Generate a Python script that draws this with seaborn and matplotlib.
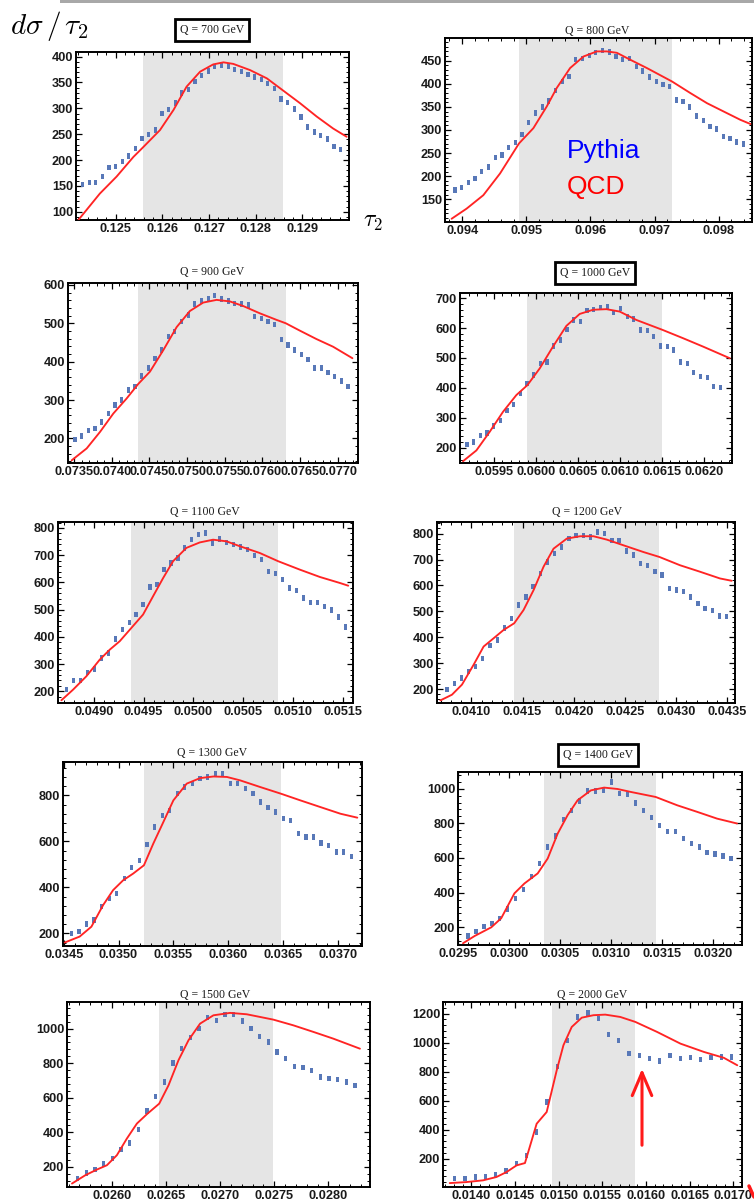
import numpy as np
import pandas as pd
import matplotlib
matplotlib.use("Agg")
import matplotlib.pyplot as plt
from matplotlib.ticker import AutoMinorLocator
from matplotlib.lines import Line2D
from matplotlib.patches import Rectangle, FancyArrowPatch
import seaborn as sns

W, H = 754, 1204

sns.set_theme(style="white")
plt.rcParams["font.family"] = ["Liberation Sans", "DejaVu Sans"]
plt.rcParams["mathtext.fontset"] = "cm"

PYTHIA_COLOR = "#5878b8"
QCD_COLOR = "#ff2424"
WINDOW_COLOR = "#e5e5e5"
TICK_FONT = 9.2

Q_VALUES = [700, 800, 900, 1000, 1100, 1200, 1300, 1400, 1500, 2000]
BOXED_TITLES = [700, 1000, 1400]

# ---------------- Q = 700 GeV ----------------
q700_pythia_tau0, q700_pythia_step = 0.12429, 0.0001418
q700_pythia = [153, 156, 157, 168, 186, 187, 197, 208, 222, 242, 250, 258, 290, 298,
               310, 330, 337, 352, 363, 372, 381, 384, 382, 375, 371, 366, 361, 356,
               348, 338, 318, 311, 299, 283, 264, 254, 247, 241, 226, 220]
q700_qcd_tau = [0.12420, 0.12466, 0.12502, 0.12538, 0.12558, 0.12595, 0.12624, 0.12652,
                0.12681, 0.12709, 0.12731, 0.12752, 0.12788, 0.12824, 0.12858, 0.12895,
                0.12931, 0.12966, 0.12995]
q700_qcd = [84, 135, 168, 206, 224, 258, 297, 342, 371, 385, 389, 386, 374, 358, 335,
            310, 284, 261, 245]
q700_window = (0.12558, 0.12858)
q700_xticks = [0.125, 0.126, 0.127, 0.128, 0.129]
q700_yticks = [100, 150, 200, 250, 300, 350, 400]

# ---------------- Q = 800 GeV ----------------
q800_pythia_tau0, q800_pythia_step = 0.093885, 0.0001047
q800_pythia = [170, 175, 186, 195, 210, 220, 240, 246, 262, 273, 290, 316, 337, 350,
               363, 385, 405, 416, 452, 455, 461, 467, 472, 469, 459, 452, 455, 437,
               428, 415, 405, 399, 394, 365, 361, 350, 330, 320, 307, 302, 286, 281,
               274, 270]
q800_qcd_tau = [0.093833, 0.094068, 0.094328, 0.094589, 0.094885, 0.095109, 0.095318,
                0.095474, 0.095682, 0.095891, 0.096099, 0.096255, 0.096411, 0.096620,
                0.096880, 0.097271, 0.097557, 0.097818, 0.098078, 0.098339, 0.098495]
q800_qcd = [108, 130, 159, 206, 271, 304, 351, 391, 434, 459, 470, 470, 467, 452, 434,
            405, 380, 358, 340, 322, 313]
q800_window = (0.094885, 0.097271)
q800_xticks = [0.094, 0.095, 0.096, 0.097, 0.098]
q800_yticks = [150, 200, 250, 300, 350, 400, 450]

# ---------------- Q = 900 GeV ----------------
q900_pythia_tau0, q900_pythia_step = 0.073513, 0.0000884
q900_pythia = [197, 206, 220, 226, 243, 265, 287, 300, 326, 336, 363, 384, 408, 430,
               465, 478, 505, 522, 550, 558, 564, 572, 563, 558, 551, 550, 548, 518,
               513, 504, 497, 458, 443, 430, 418, 406, 384, 384, 372, 362, 350, 336]
q900_qcd_tau = [0.073469, 0.073668, 0.073845, 0.074022, 0.074198, 0.074353, 0.074508,
                0.074685, 0.074862, 0.075038, 0.075215, 0.075392, 0.075569, 0.075746,
                0.075967, 0.076188, 0.076312, 0.076497, 0.076718, 0.076939, 0.077196]
q900_qcd = [143, 174, 217, 265, 304, 342, 374, 430, 490, 532, 554, 561, 557, 545, 526,
            509, 500, 481, 459, 439, 409]
q900_window = (0.074349, 0.076312)
q900_xticks = [0.0735, 0.0740, 0.0745, 0.0750, 0.0755, 0.0760, 0.0765, 0.0770]
q900_yticks = [200, 300, 400, 500, 600]

# ---------------- Q = 1000 GeV ----------------
q1000_pythia_tau0, q1000_pythia_step = 0.059179, 0.0000794
q1000_pythia = [211, 219, 241, 249, 272, 292, 325, 345, 381, 415, 443, 482, 487, 540,
                560, 596, 627, 622, 659, 661, 668, 672, 652, 665, 638, 630, 594, 592,
                571, 540, 538, 527, 487, 482, 451, 439, 435, 404, 402]
q1000_qcd_tau = [0.059131, 0.059290, 0.059448, 0.059607, 0.059766, 0.059897, 0.060044,
                 0.060202, 0.060361, 0.060520, 0.060679, 0.060837, 0.060996, 0.061194,
                 0.061504, 0.061750, 0.061988, 0.062266, 0.062306]
q1000_qcd = [155, 191, 253, 320, 376, 409, 465, 538, 607, 647, 661, 663, 655, 627, 594,
             566, 538, 504, 499]
q1000_window = (0.059897, 0.061504)
q1000_xticks = [0.0595, 0.0600, 0.0605, 0.0610, 0.0615, 0.0620]
q1000_yticks = [200, 300, 400, 500, 600, 700]

# ---------------- Q = 1100 GeV ----------------
q1100_pythia_tau0, q1100_pythia_step = 0.048726, 0.0000699
q1100_pythia = [206, 240, 240, 270, 282, 322, 341, 392, 427, 453, 482, 518, 583, 592,
                647, 671, 690, 727, 757, 776, 782, 745, 760, 747, 739, 730, 720, 698,
                684, 641, 632, 610, 580, 571, 543, 527, 527, 512, 498, 473, 436]
q1100_qcd_tau = [0.048676, 0.048793, 0.048926, 0.049060, 0.049161, 0.049261, 0.049378,
                 0.049495, 0.049595, 0.049696, 0.049796, 0.049930, 0.050064, 0.050197,
                 0.050331, 0.050465, 0.050666, 0.050849, 0.051067, 0.051268, 0.051468,
                 0.051552]
q1100_qcd = [167, 206, 255, 316, 353, 384, 433, 482, 549, 616, 678, 727, 747, 757, 751,
             733, 708, 678, 647, 620, 598, 588]
q1100_window = (0.049378, 0.050850)
q1100_xticks = [0.0490, 0.0495, 0.0500, 0.0505, 0.0510, 0.0515]
q1100_yticks = [200, 300, 400, 500, 600, 700, 800]

# ---------------- Q = 1200 GeV ----------------
q1200_pythia_tau0, q1200_pythia_step = 0.040763, 0.0000700
q1200_pythia = [197, 221, 242, 268, 287, 319, 367, 390, 435, 473, 524, 556, 595, 646,
                691, 723, 749, 781, 794, 794, 787, 806, 800, 774, 774, 733, 717, 685,
                678, 653, 640, 588, 582, 576, 556, 531, 512, 503, 482, 479]
q1200_qcd_tau = [0.040698, 0.040811, 0.040909, 0.041023, 0.041120, 0.041218, 0.041315,
                 0.041419, 0.041510, 0.041608, 0.041705, 0.041803, 0.041933, 0.042063,
                 0.042193, 0.042323, 0.042486, 0.042681, 0.042837, 0.043038, 0.043233,
                 0.043428, 0.043542]
q1200_qcd = [156, 178, 217, 294, 364, 396, 428, 454, 505, 582, 672, 742, 781, 790, 790,
             777, 755, 729, 710, 678, 653, 627, 618]
q1200_window = (0.041419, 0.042837)
q1200_xticks = [0.0410, 0.0415, 0.0420, 0.0425, 0.0430, 0.0435]
q1200_yticks = [200, 300, 400, 500, 600, 700, 800]

# ---------------- Q = 1300 GeV ----------------
q1300_pythia_tau0, q1300_pythia_step = 0.034570, 0.0000690
q1300_pythia = [200, 207, 240, 258, 316, 352, 374, 439, 486, 518, 587, 663, 713, 735,
                807, 836, 851, 872, 880, 894, 894, 851, 851, 829, 807, 771, 747, 728,
                699, 692, 634, 619, 619, 593, 583, 554, 554, 535]
q1300_qcd_tau = [0.034509, 0.034646, 0.034753, 0.034860, 0.034951, 0.035043, 0.035134,
                 0.035232, 0.035317, 0.035409, 0.035500, 0.035622, 0.035744, 0.035866,
                 0.035988, 0.036110, 0.036293, 0.036482, 0.036659, 0.036841, 0.037024,
                 0.037177]
q1300_qcd = [160, 186, 229, 323, 388, 431, 460, 496, 590, 684, 778, 851, 875, 882, 880,
             865, 836, 807, 778, 749, 720, 703]
q1300_window = (0.035232, 0.036482)
q1300_xticks = [0.0345, 0.0350, 0.0355, 0.0360, 0.0365, 0.0370]
q1300_yticks = [200, 400, 600, 800]

# ---------------- Q = 1400 GeV ----------------
q1400_pythia_tau0, q1400_pythia_step = 0.029598, 0.0000781
q1400_pythia = [150, 175, 204, 223, 252, 306, 367, 419, 492, 568, 664, 726, 822, 875,
                929, 987, 987, 990, 1038, 971, 967, 917, 875, 833, 789, 751, 751, 712,
                683, 664, 630, 622, 611, 597]
q1400_qcd_tau = [0.029549, 0.029663, 0.029826, 0.029923, 0.030053, 0.030151, 0.030281,
                 0.030379, 0.030477, 0.030574, 0.030672, 0.030802, 0.030932, 0.031063,
                 0.031193, 0.031437, 0.031648, 0.031844, 0.032039, 0.032234]
q1400_qcd = [108, 150, 200, 252, 396, 453, 511, 597, 741, 847, 933, 990, 1006, 998, 981,
             952, 904, 866, 827, 799]
q1400_window = (0.030340, 0.031437)
q1400_xticks = [0.0295, 0.0300, 0.0305, 0.0310, 0.0315, 0.0320]
q1400_yticks = [200, 400, 600, 800, 1000]

# ---------------- Q = 1500 GeV ----------------
q1500_pythia_tau0, q1500_pythia_step = 0.025683, 0.0000801
q1500_pythia = [133, 166, 185, 216, 249, 301, 339, 416, 524, 609, 692, 802, 884, 948,
                1000, 1064, 1048, 1083, 1083, 1044, 1000, 956, 923, 865, 827, 782, 775,
                759, 721, 711, 705, 692, 672]
q1500_qcd_tau = [0.025631, 0.025754, 0.025862, 0.025954, 0.026046, 0.026138, 0.026231,
                 0.026323, 0.026437, 0.026523, 0.026615, 0.026708, 0.026815, 0.026938,
                 0.027092, 0.027246, 0.027492, 0.027677, 0.027862, 0.028046, 0.028292]
q1500_qcd = [104, 152, 185, 210, 268, 364, 451, 505, 566, 672, 817, 933, 1029, 1077,
             1091, 1083, 1052, 1019, 981, 942, 884]
q1500_window = (0.026437, 0.027492)
q1500_xticks = [0.0260, 0.0265, 0.0270, 0.0275, 0.0280]
q1500_yticks = [200, 400, 600, 800, 1000]

# ---------------- Q = 2000 GeV ----------------
q2000_pythia_tau0, q2000_pythia_step = 0.013808, 0.0001175
q2000_pythia = [62, 62, 74, 78, 92, 115, 166, 223, 384, 591, 837, 1016, 1177, 1205,
                1166, 1057, 1016, 924, 913, 890, 874, 913, 890, 897, 885, 897, 901, 901]
q2000_qcd_tau = [0.013751, 0.013943, 0.014134, 0.014287, 0.014402, 0.014517, 0.014613,
                 0.014747, 0.014862, 0.014977, 0.015054, 0.015149, 0.015264, 0.015398,
                 0.015533, 0.015705, 0.015877, 0.016126, 0.016395, 0.016663, 0.016893,
                 0.017046]
q2000_qcd = [32, 39, 51, 74, 108, 154, 170, 441, 522, 809, 982, 1108, 1172, 1189, 1193,
             1177, 1143, 1074, 993, 936, 895, 844]
q2000_window = (0.014927, 0.015877)
q2000_xticks = [0.0140, 0.0145, 0.0150, 0.0155, 0.0160, 0.0165, 0.0170]
q2000_yticks = [200, 400, 600, 800, 1000, 1200]

# Panel geometry: axes box in pixels (left, right, top, bottom), axis ranges,
# and the centre of each panel heading.
panels = [
    dict(q=700, tau0=q700_pythia_tau0, step=q700_pythia_step, pythia=q700_pythia,
         qcd_tau=q700_qcd_tau, qcd=q700_qcd, window=q700_window,
         xticks=q700_xticks, yticks=q700_yticks, xfmt="%.3f",
         xlim=(0.12415, 0.13000), ylim=(84, 409),
         box=(76, 349, 52, 220), title=(212, 30)),
    dict(q=800, tau0=q800_pythia_tau0, step=q800_pythia_step, pythia=q800_pythia,
         qcd_tau=q800_qcd_tau, qcd=q800_qcd, window=q800_window,
         xticks=q800_xticks, yticks=q800_yticks, xfmt="%.3f",
         xlim=(0.09373, 0.09852), ylim=(101, 499),
         box=(445, 752, 38, 222), title=(597, 31)),
    dict(q=900, tau0=q900_pythia_tau0, step=q900_pythia_step, pythia=q900_pythia,
         qcd_tau=q900_qcd_tau, qcd=q900_qcd, window=q900_window,
         xticks=q900_xticks, yticks=q900_yticks, xfmt="%.4f",
         xlim=(0.07342, 0.07727), ylim=(136, 605),
         box=(68, 358, 283, 463), title=(212, 272)),
    dict(q=1000, tau0=q1000_pythia_tau0, step=q1000_pythia_step, pythia=q1000_pythia,
         qcd_tau=q1000_qcd_tau, qcd=q1000_qcd, window=q1000_window,
         xticks=q1000_xticks, yticks=q1000_yticks, xfmt="%.4f",
         xlim=(0.059095, 0.062333), ylim=(149, 717),
         box=(460, 732, 293, 463), title=(595, 273)),
    dict(q=1100, tau0=q1100_pythia_tau0, step=q1100_pythia_step, pythia=q1100_pythia,
         qcd_tau=q1100_qcd_tau, qcd=q1100_qcd, window=q1100_window,
         xticks=q1100_xticks, yticks=q1100_yticks, xfmt="%.4f",
         xlim=(0.048642, 0.051600), ylim=(157, 822),
         box=(58, 353, 522, 703), title=(205, 512)),
    dict(q=1200, tau0=q1200_pythia_tau0, step=q1200_pythia_step, pythia=q1200_pythia,
         qcd_tau=q1200_qcd_tau, qcd=q1200_qcd, window=q1200_window,
         xticks=q1200_xticks, yticks=q1200_yticks, xfmt="%.4f",
         xlim=(0.040665, 0.043575), ylim=(146, 845),
         box=(437, 735, 522, 703), title=(587, 512)),
    dict(q=1300, tau0=q1300_pythia_tau0, step=q1300_pythia_step, pythia=q1300_pythia,
         qcd_tau=q1300_qcd_tau, qcd=q1300_qcd, window=q1300_window,
         xticks=q1300_xticks, yticks=q1300_yticks, xfmt="%.4f",
         xlim=(0.034494, 0.037220), ylim=(145, 945),
         box=(63, 362, 762, 946), title=(212, 753)),
    dict(q=1400, tau0=q1400_pythia_tau0, step=q1400_pythia_step, pythia=q1400_pythia,
         qcd_tau=q1400_qcd_tau, qcd=q1400_qcd, window=q1400_window,
         xticks=q1400_xticks, yticks=q1400_yticks, xfmt="%.4f",
         xlim=(0.029516, 0.032283), ylim=(98, 1096),
         box=(458, 742, 772, 945), title=(598, 755)),
    dict(q=1500, tau0=q1500_pythia_tau0, step=q1500_pythia_step, pythia=q1500_pythia,
         qcd_tau=q1500_qcd_tau, qcd=q1500_qcd, window=q1500_window,
         xticks=q1500_xticks, yticks=q1500_yticks, xfmt="%.4f",
         xlim=(0.025585, 0.028385), ylim=(84, 1154),
         box=(67, 370, 1002, 1187), title=(215, 995)),
    dict(q=2000, tau0=q2000_pythia_tau0, step=q2000_pythia_step, pythia=q2000_pythia,
         qcd_tau=q2000_qcd_tau, qcd=q2000_qcd, window=q2000_window,
         xticks=q2000_xticks, yticks=q2000_yticks, xfmt="%.4f",
         xlim=(0.013674, 0.017100), ylim=(5, 1280),
         box=(443, 742, 1002, 1187), title=(592, 995)),
]

# Tall narrow bar used as the Pythia marker (a bin value with its error bar)
BAR_MARKER = [(-0.6, -1.0), (0.6, -1.0), (0.6, 1.0), (-0.6, 1.0)]

fig = plt.figure(figsize=(W / 100, H / 100), dpi=100)
fig.patch.set_facecolor("white")

for p in panels:
    l, r, t, b = p["box"]
    ax = fig.add_axes([l / W, 1 - b / H, (r - l) / W, (b - t) / H])
    ax.set_facecolor("white")

    ax.axvspan(p["window"][0], p["window"][1], color=WINDOW_COLOR, lw=0, zorder=0)

    n = len(p["pythia"])
    pythia_df = pd.DataFrame({"tau": p["tau0"] + p["step"] * np.arange(n),
                              "rate": p["pythia"]})
    sns.scatterplot(data=pythia_df, x="tau", y="rate", ax=ax, marker=BAR_MARKER,
                    s=15, color=PYTHIA_COLOR, edgecolor="none", linewidth=0,
                    zorder=3, legend=False)

    qcd_df = pd.DataFrame({"tau": p["qcd_tau"], "rate": p["qcd"]})
    sns.lineplot(data=qcd_df, x="tau", y="rate", ax=ax, color=QCD_COLOR, lw=1.35,
                 sort=False, estimator=None, zorder=4, legend=False)

    ax.set_xlim(*p["xlim"])
    ax.set_ylim(*p["ylim"])
    ax.set_xlabel("")
    ax.set_ylabel("")

    ax.set_xticks(p["xticks"])
    ax.set_xticklabels([p["xfmt"] % v for v in p["xticks"]],
                       fontsize=TICK_FONT, fontweight="bold", color="#1a1a1a")
    ax.set_yticks(p["yticks"])
    ax.set_yticklabels([str(v) for v in p["yticks"]],
                       fontsize=TICK_FONT, fontweight="bold", color="#1a1a1a")
    ax.xaxis.set_minor_locator(AutoMinorLocator(5))
    ax.yaxis.set_minor_locator(AutoMinorLocator(5))
    ax.tick_params(which="both", direction="in", top=True, right=True,
                   bottom=True, left=True, color="black")
    ax.tick_params(which="major", length=4, width=0.9)
    ax.tick_params(which="minor", length=2.2, width=0.7)
    ax.tick_params(axis="x", which="major", pad=2.5)
    ax.tick_params(axis="y", which="major", pad=2.0)
    for sp in ax.spines.values():
        sp.set_color("black")
        sp.set_linewidth(1.4)
        sp.set_visible(True)

    cx, cy = p["title"]
    title_kw = dict(ha="center", va="center", fontsize=8.5,
                    family=["Liberation Serif", "DejaVu Serif"], color="#1a1a1a")
    if p["q"] in BOXED_TITLES:
        title_kw["bbox"] = dict(boxstyle="square,pad=0.4", fc="white",
                                ec="black", lw=2.0)
    fig.text(cx / W, 1 - cy / H, f"Q = {p['q']} GeV", **title_kw)

# Common axis labels
fig.text(10 / W, 1 - 34 / H, r"$d\sigma\,/\,\tau_2$", fontsize=21,
         ha="left", va="baseline", color="black")
fig.text(363 / W, 1 - 227 / H, r"$\tau_2$", fontsize=17,
         ha="left", va="baseline", color="black")

# Series labels
fig.text(567 / W, 1 - 158 / H, "Pythia", fontsize=19, color="#0000ff",
         ha="left", va="baseline")
fig.text(567 / W, 1 - 194 / H, "QCD", fontsize=19, color="#ff0000",
         ha="left", va="baseline")

# Arrow pointing at the shoulder of the Q = 2000 GeV distribution
fig.add_artist(FancyArrowPatch((642 / W, 1 - 1148 / H), (642 / W, 1 - 1066 / H),
                               transform=fig.transFigure,
                               arrowstyle="->,head_length=0.75,head_width=0.32",
                               mutation_scale=22, color="#ff1a1a", lw=2.2))
fig.add_artist(Line2D([749 / W, 754 / W], [1 - 1186 / H, 1 - 1197 / H],
                      transform=fig.transFigure, color="#ff1a1a", lw=2.5))

# Thin grey rule along the top edge
fig.add_artist(Rectangle((60 / W, 1 - 3 / H), (W - 60) / W, 3 / H,
                         transform=fig.transFigure, color="#a8a8a8", lw=0))

fig.savefig("out.png", dpi=100, facecolor="white")
